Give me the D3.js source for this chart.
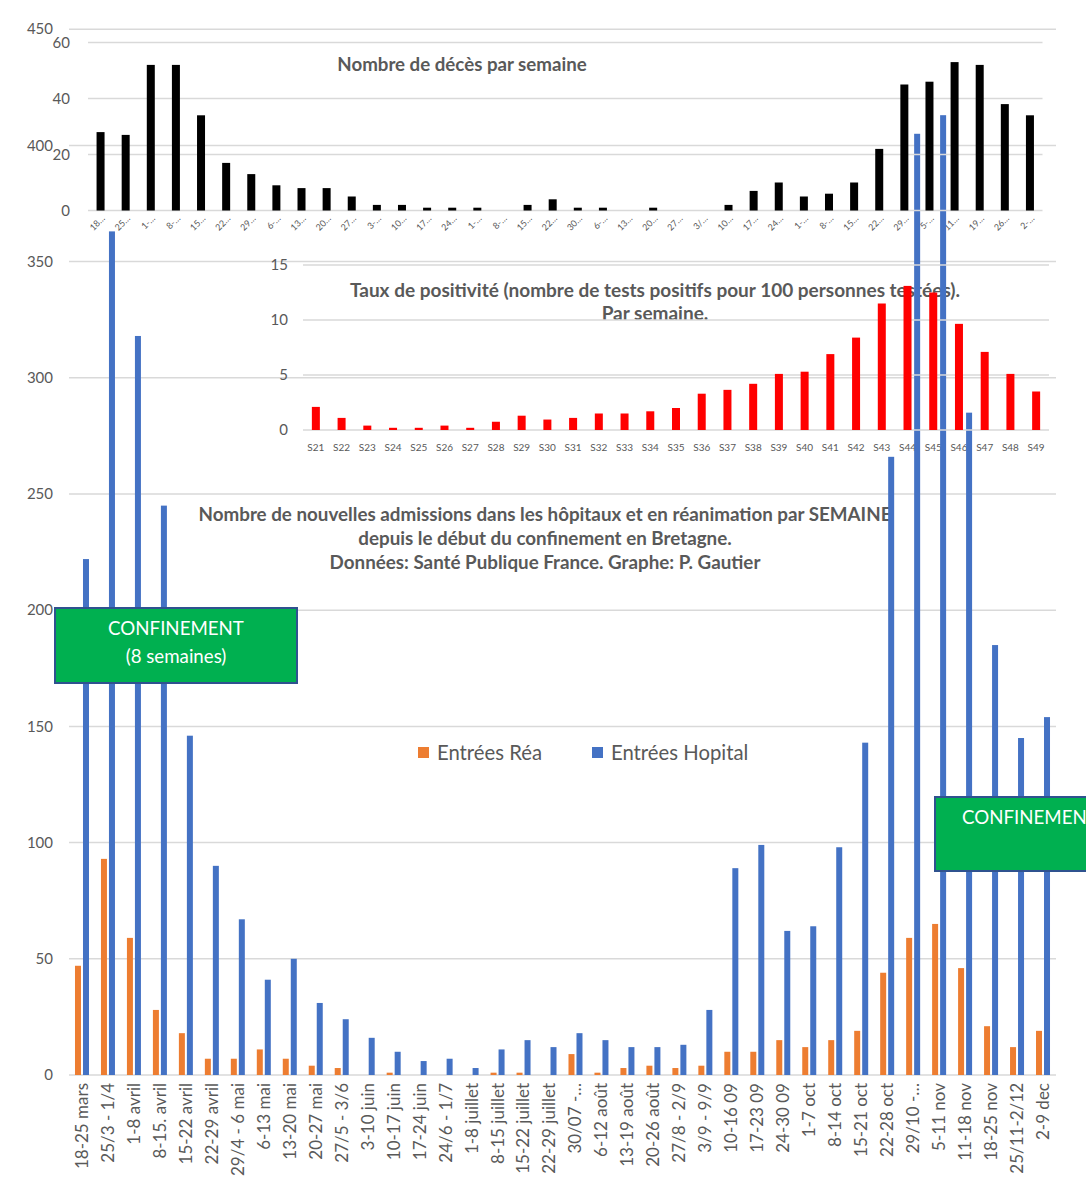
<!DOCTYPE html>
<html>
<head>
<meta charset="utf-8">
<script src="https://cdn.jsdelivr.net/npm/d3@7"></script>
<style>
  body { margin: 0; background: #fff; }
  text { font-family: Lato, "Open Sans", sans-serif; fill: #595959; }
</style>
</head>
<body>
<svg id="chart"></svg>
<script>
// weekly admissions (bottom chart)
const weeks = ["18-25 mars", "25/3 - 1/4", "1-8 avril", "8-15. avril", "15-22 avril", "22-29 avril",
  "29/4 - 6 mai", "6-13 mai", "13-20 mai", "20-27 mai", "27/5 - 3/6", "3-10 juin", "10-17 juin",
  "17-24 juin", "24/6 - 1/7", "1-8 juillet", "8-15 juillet", "15-22 juillet", "22-29 juillet",
  "30/07 -…", "6-12 août", "13-19 août", "20-26 août", "27/8 - 2/9", "3/9 - 9/9", "10-16 09",
  "17-23 09", "24-30 09", "1-7 oct", "8-14 oct", "15-21 oct", "22-28 oct", "29/10 -…", "5-11 nov",
  "11-18 nov", "18-25 nov", "25/11-2/12", "2-9 dec"];
const rea = [47, 93, 59, 28, 18, 7, 7, 11, 7, 4, 3, 0, 1, 0, 0, 0, 1, 1, 0,
  9, 1, 3, 4, 3, 4, 10, 10, 15, 12, 15, 19, 44, 59, 65, 46, 21, 12, 19];
const hopital = [222, 363, 318, 245, 146, 90, 67, 41, 50, 31, 24, 16, 10, 6, 7, 3, 11, 15, 12,
  18, 15, 12, 12, 13, 28, 89, 99, 62, 64, 98, 143, 266, 405, 413, 285, 185, 145, 154];
const admTicks = [0, 50, 100, 150, 200, 250, 300, 350, 400, 450];

// weekly deaths (top chart), labels truncated as in the source
const decesLabels = ["18…", "25…", "1-…", "8-…", "15…", "22…", "29…", "6-…", "13…", "20…", "27…",
  "3-…", "10…", "17…", "24…", "1-…", "8-…", "15…", "22…", "30…", "6-…", "13…", "20…", "27…",
  "3/…", "10…", "17…", "24…", "1-…", "8-…", "15…", "22…", "29…", "5-…", "11…", "19…", "26…", "2-…"];
const deces = [28, 27, 52, 52, 34, 17, 13, 9, 8, 8, 5, 2, 2, 1, 1, 1, 0, 2, 4, 1, 1, 0, 1, 0,
  0, 2, 7, 10, 5, 6, 10, 22, 45, 46, 53, 52, 38, 34];
const decesTicks = [0, 20, 40, 60];

// positivity rate (middle chart)
const semaines = ["S21", "S22", "S23", "S24", "S25", "S26", "S27", "S28", "S29", "S30", "S31",
  "S32", "S33", "S34", "S35", "S36", "S37", "S38", "S39", "S40", "S41", "S42", "S43", "S44",
  "S45", "S46", "S47", "S48", "S49"];
const positivite = [2.1, 1.1, 0.4, 0.2, 0.2, 0.4, 0.2, 0.75, 1.3, 0.95, 1.1, 1.5, 1.5, 1.7, 2.0,
  3.3, 3.65, 4.2, 5.1, 5.3, 6.9, 8.4, 11.5, 13.1, 12.5, 9.65, 7.1, 5.1, 3.5];
const posTicks = [0, 5, 10, 15];

const W = 1086, H = 1180;
const grid = "#d9d9d9";
const svg = d3.select("#chart").attr("width", W).attr("height", H);

// scales
const xAdm = d3.scaleBand().domain(d3.range(weeks.length)).range([69, 1056]);
const yAdm = d3.scaleLinear().domain([0, 450]).range([1075, 29.2]);
const xDec = d3.scaleBand().domain(d3.range(deces.length)).range([88, 1042.5]);
const yDec = d3.scaleLinear().domain([0, 60]).range([210.5, 42.5]);
const xPos = d3.scaleBand().domain(semaines).range([303, 1049]);
const yPos = d3.scaleLinear().domain([0, 15]).range([430, 265]);

const layerBase = svg.append("g");
const layerText = svg.append("g");
const layerAdm = svg.append("g");
const layerGrid = svg.append("g");
const layerBars = svg.append("g");
const layerTop = svg.append("g");

// bottom chart gridlines + y labels
layerBase.selectAll("line").data(admTicks).enter().append("line")
  .attr("x1", 69).attr("x2", 1056)
  .attr("y1", d => yAdm(d)).attr("y2", d => yAdm(d))
  .style("stroke", grid).style("stroke-width", 1.5);
layerText.append("g").selectAll("text").data(admTicks).enter().append("text")
  .attr("x", 53).attr("y", d => yAdm(d)).attr("dy", "0.35em")
  .attr("text-anchor", "end").style("font-size", "15px")
  .text(d => d);

// bottom x labels, vertical
layerText.append("g").selectAll("text").data(weeks).enter().append("text")
  .attr("transform", (d, i) => `translate(${xAdm(i) + xAdm.bandwidth() / 2},1083) rotate(-90)`)
  .attr("dy", "0.35em").attr("text-anchor", "end").style("font-size", "17px")
  .text(d => d);

// top chart labels
layerText.append("g").selectAll("text").data(decesTicks).enter().append("text")
  .attr("x", 70).attr("y", d => yDec(d)).attr("dy", "0.35em")
  .attr("text-anchor", "end").style("font-size", "15px")
  .text(d => d);
layerText.append("g").selectAll("text").data(decesLabels).enter().append("text")
  .attr("transform", (d, i) => `translate(${xDec(i) + xDec.bandwidth() / 2 + 5},219) rotate(-45)`)
  .attr("text-anchor", "end").style("font-size", "9px")
  .text(d => d);

// middle chart labels
layerText.append("g").selectAll("text").data(posTicks).enter().append("text")
  .attr("x", 288).attr("y", d => yPos(d)).attr("dy", "0.35em")
  .attr("text-anchor", "end").style("font-size", "15px")
  .text(d => d);
layerText.append("g").selectAll("text").data(semaines).enter().append("text")
  .attr("x", d => xPos(d) + xPos.bandwidth() / 2).attr("y", 447).attr("dy", "0.35em")
  .attr("text-anchor", "middle").style("font-size", "10px")
  .text(d => d);

// titles
const titles = [
  { t: "Nombre de décès par semaine", x: 462, y: 64, s: 18.7 },
  { t: "Taux de positivité (nombre de tests positifs pour 100 personnes testées).", x: 655, y: 290, s: 19 },
  { t: "Par semaine.", x: 655, y: 313, s: 19 },
  { t: "Nombre de nouvelles admissions dans les hôpitaux et en réanimation par SEMAINE", x: 545, y: 514, s: 18.8 },
  { t: "depuis le début du confinement en Bretagne.", x: 545, y: 538, s: 18.8 },
  { t: "Données: Santé Publique France. Graphe: P. Gautier", x: 545, y: 562, s: 18.8 }
];
layerText.append("g").selectAll("text").data(titles).enter().append("text")
  .attr("x", d => d.x).attr("y", d => d.y).attr("dy", "0.35em")
  .attr("text-anchor", "middle").style("font-weight", "bold")
  .style("font-size", d => d.s + "px")
  .text(d => d.t);

// admissions bars
layerAdm.selectAll("rect.rea").data(rea).enter().append("rect")
  .attr("x", (d, i) => xAdm(i) + xAdm.bandwidth() / 2 - 7)
  .attr("y", d => yAdm(d)).attr("width", 6)
  .attr("height", d => yAdm(0) - yAdm(d))
  .style("fill", "#ED7D31");
layerAdm.selectAll("rect.hop").data(hopital).enter().append("rect")
  .attr("x", (d, i) => xAdm(i) + xAdm.bandwidth() / 2 + 1)
  .attr("y", d => yAdm(d)).attr("width", 6)
  .attr("height", d => yAdm(0) - yAdm(d))
  .style("fill", "#4472C4");

// top + middle gridlines (drawn over the blue bars, as in the source)
layerGrid.append("g").selectAll("line").data(decesTicks).enter().append("line")
  .attr("x1", 88).attr("x2", 1042.5)
  .attr("y1", d => yDec(d)).attr("y2", d => yDec(d))
  .style("stroke", grid).style("stroke-width", 1.5);
layerGrid.append("g").selectAll("line").data(posTicks).enter().append("line")
  .attr("x1", 303).attr("x2", 1049)
  .attr("y1", d => yPos(d)).attr("y2", d => yPos(d))
  .style("stroke", grid).style("stroke-width", 1.5);

// deaths bars
layerBars.append("g").selectAll("rect").data(deces).enter().append("rect")
  .attr("x", (d, i) => xDec(i) + xDec.bandwidth() / 2 - 4)
  .attr("y", d => yDec(d)).attr("width", 8)
  .attr("height", d => yDec(0) - yDec(d))
  .style("fill", "#000");

// positivity bars
layerBars.append("g").selectAll("rect").data(positivite).enter().append("rect")
  .attr("x", (d, i) => xPos(semaines[i]) + xPos.bandwidth() / 2 - 4)
  .attr("y", d => yPos(d)).attr("width", 8)
  .attr("height", d => yPos(0) - yPos(d))
  .style("fill", "#FF0000");

// legend
const legend = [
  { name: "Entrées Réa", color: "#ED7D31", x: 418 },
  { name: "Entrées Hopital", color: "#4472C4", x: 592 }
];
const lg = layerTop.append("g").selectAll("g").data(legend).enter().append("g");
lg.append("rect").attr("x", d => d.x).attr("y", 747).attr("width", 11).attr("height", 11)
  .style("fill", d => d.color);
lg.append("text").attr("x", d => d.x + 19).attr("y", 753).attr("dy", "0.35em")
  .style("font-size", "20.3px").text(d => d.name);

// lockdown boxes
const boxes = [
  { x: 55, y: 608, w: 242, h: 75, lines: ["CONFINEMENT", "(8 semaines)"], tx: 176, anchor: "middle" },
  { x: 935, y: 797, w: 200, h: 74, lines: ["CONFINEMENT"], tx: 962, anchor: "start" }
];
const bx = layerTop.append("g").selectAll("g").data(boxes).enter().append("g");
bx.append("rect").attr("x", d => d.x).attr("y", d => d.y)
  .attr("width", d => d.w).attr("height", d => d.h)
  .style("fill", "#00B050").style("stroke", "#2F528F").style("stroke-width", 2);
bx.each(function(d) {
  d3.select(this).selectAll("text").data(d.lines).enter().append("text")
    .attr("x", d.tx).attr("y", (l, j) => d.y + 20 + j * 28).attr("dy", "0.35em")
    .attr("text-anchor", d.anchor)
    .style("font-size", "18.7px").style("fill", "#fff")
    .text(l => l);
});
</script>
</body>
</html>
